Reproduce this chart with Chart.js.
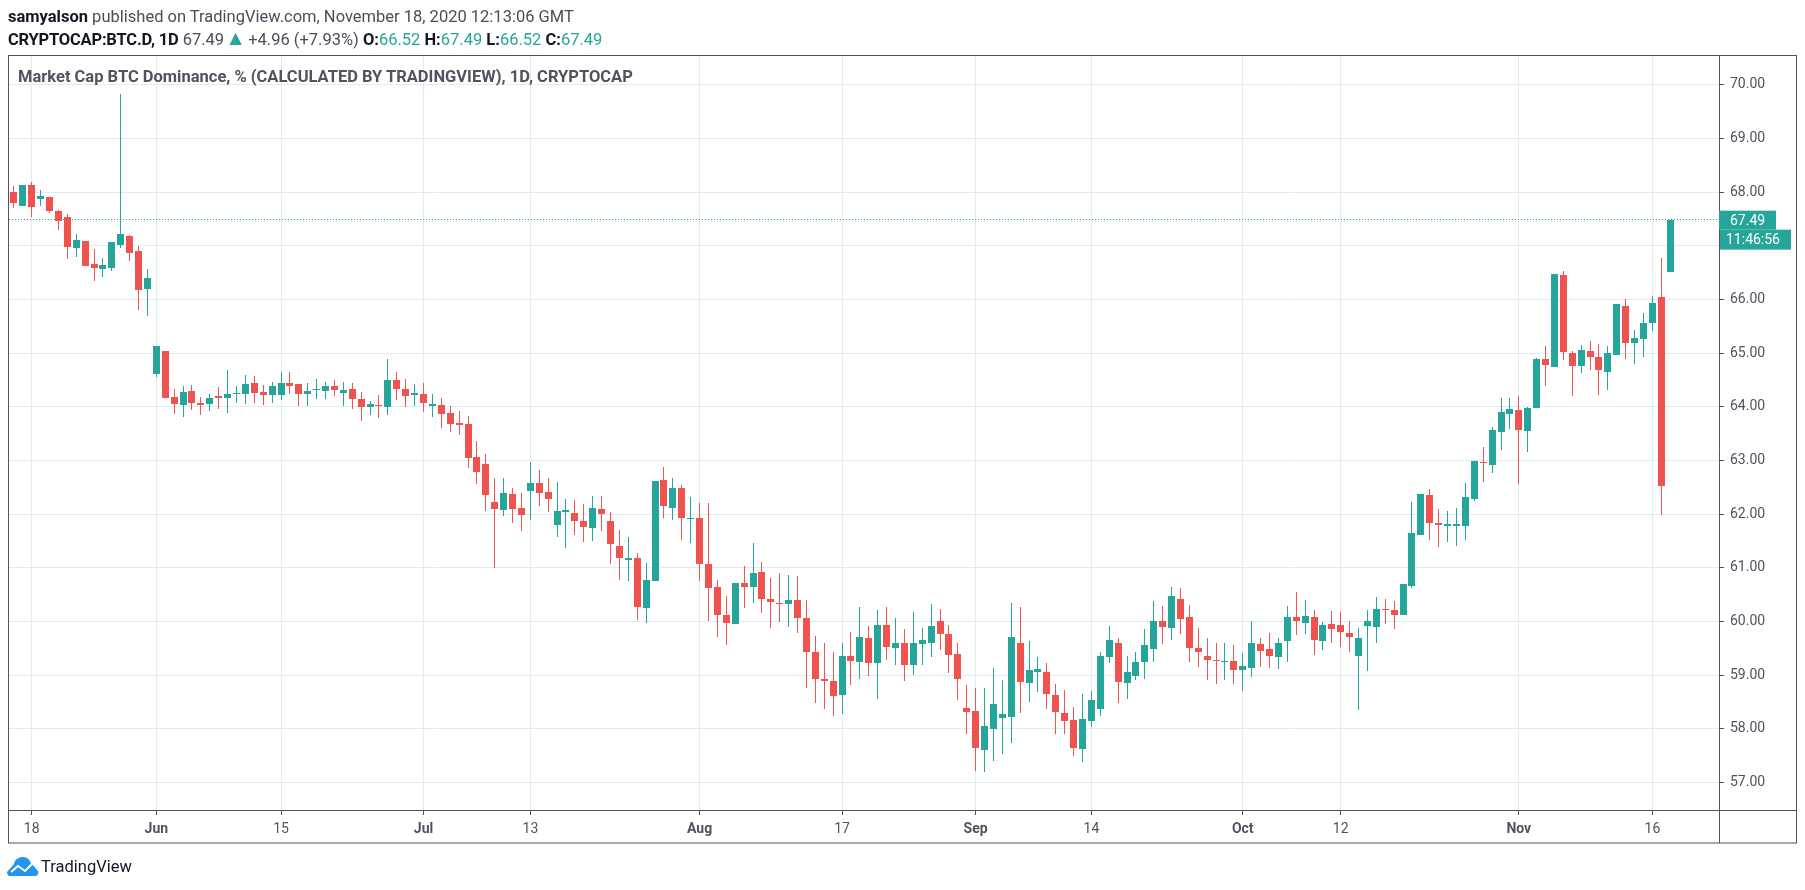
<!DOCTYPE html>
<html>
<head>
<meta charset="utf-8">
<title>BTC Dominance</title>
<script src="https://cdn.jsdelivr.net/npm/chart.js@4"></script>
<style>
  html, body { margin: 0; padding: 0; background: #fff; overflow: hidden; }
  body { width: 1805px; height: 890px; position: relative; font-family: Roboto, sans-serif; }
  canvas { position: absolute; left: 0; top: 0; }
  .txt { position: absolute; white-space: nowrap; }
  #published { left: 8px; top: 7px; font-size: 16.5px; line-height: 20px; color: #4a4e59; }
  #published b, #ohlc b { color: #131722; }
  #ohlc { left: 8px; top: 29px; font-size: 16.5px; line-height: 20px; color: #4a4e59; }
  #ohlc b.sym { letter-spacing: -0.2px; }
  #ohlc span { color: #26a69a; }
  #ohlc span.up { font-size: 21px; line-height: 18px; margin: 0 -2px 0 -3px; }
  #title { left: 18px; top: 67px; font-size: 16.5px; line-height: 20px; font-weight: 700; color: #50535e; }
  #brand { left: 41px; top: 856px; font-size: 16.5px; line-height: 22px; color: #131722; }
  #logo { position: absolute; left: 7px; top: 857px; }
</style>
</head>
<body>
<canvas id="chart" width="1805" height="890"></canvas>
<div class="txt" id="published"><b>samyalson</b> published on TradingView.com, November 18, 2020 12:13:06 GMT</div>
<div class="txt" id="ohlc"><b class="sym">CRYPTOCAP:BTC.D, 1D</b> 67.49 <span class="up">▲</span> +4.96 (+7.93%) <b>O:</b><span>66.52</span> <b>H:</b><span>67.49</span> <b>L:</b><span>66.52</span> <b>C:</b><span>67.49</span></div>
<div class="txt" id="title">Market Cap BTC Dominance, % (CALCULATED BY TRADINGVIEW), 1D, CRYPTOCAP</div>
<svg id="logo" width="32" height="19" viewBox="0 0 32 19">
  <path d="M0 15 L7 7 C8 2 12 0 16 0 C20 0 23 3 24 6 L31 14 C32 17 30 19 28 19 L3 19 C1 19 0 17 0 15 Z" fill="#2196f3"/>
  <polyline points="4,15 11,9 18,14 26,6" fill="none" stroke="#fff" stroke-width="2"/>
</svg>
<div class="txt" id="brand">TradingView</div>
<script>
// candles run one per day from May 16 to Nov 18 2020, x is the day index
const opens = [
  68.01,67.75,68.14,67.88,67.91,67.65,67.54,66.96,67.09,66.66,
  66.57,66.59,67.02,67.19,66.91,66.20,64.61,65.04,64.19,64.04,
  64.30,64.07,64.06,64.20,64.17,64.24,64.24,64.45,64.28,64.22,
  64.22,64.45,64.43,64.24,64.32,64.30,64.39,64.26,64.34,64.15,
  64.00,64.04,64.00,64.50,64.34,64.22,64.24,64.02,64.04,63.89,
  63.70,63.68,63.07,62.94,62.23,62.08,62.38,62.12,62.43,62.58,
  62.42,61.80,62.04,62.02,61.88,61.75,62.10,61.88,61.41,61.15,
  61.19,60.25,60.76,62.64,62.12,62.49,61.91,61.93,61.07,60.65,
  60.12,59.96,60.72,60.65,60.93,60.42,60.35,60.33,60.40,60.07,
  59.43,58.93,58.89,58.63,59.35,59.24,59.69,59.22,59.93,59.50,
  59.61,59.19,59.58,59.61,60.01,59.76,59.39,58.39,58.33,57.60,
  57.99,58.20,58.22,59.61,58.85,59.06,59.06,58.63,58.29,58.16,
  57.62,58.14,58.37,59.34,59.61,58.85,58.98,59.24,59.48,60.01,
  59.88,60.43,60.08,59.50,59.35,59.28,59.24,59.26,59.09,59.13,
  59.58,59.48,59.34,59.63,60.08,59.97,60.08,59.63,59.95,59.93,
  59.78,59.35,59.91,59.89,60.23,60.21,60.12,60.66,61.61,62.35,
  61.83,61.78,61.78,61.78,62.28,62.98,62.91,63.53,63.86,63.94,
  63.55,63.98,64.89,64.74,66.45,65.00,64.76,65.04,64.94,64.65,
  64.96,65.88,65.19,65.26,65.56,66.04,66.52
];
const highs = [
  68.12,68.14,68.19,68.04,67.91,67.67,67.60,67.22,67.09,66.94,
  66.78,67.07,69.83,67.20,67.00,66.57,65.14,65.04,64.34,64.39,
  64.41,64.19,64.24,64.37,64.69,64.39,64.60,64.58,64.41,64.47,
  64.65,64.65,64.43,64.45,64.52,64.47,64.50,64.47,64.45,64.28,
  64.11,64.22,64.89,64.65,64.52,64.43,64.45,64.24,64.17,64.02,
  63.93,63.83,63.37,63.12,62.68,62.68,62.49,62.40,62.98,62.83,
  62.68,62.60,62.29,62.27,62.19,62.34,62.34,62.04,61.71,61.58,
  61.28,61.09,62.62,62.88,62.68,62.55,62.32,62.21,62.21,60.78,
  60.48,60.72,61.04,61.47,61.11,60.81,60.91,60.87,60.85,60.40,
  59.73,59.60,59.43,59.60,59.80,60.27,59.91,60.22,60.27,60.06,
  59.86,60.17,59.88,60.32,60.23,59.93,59.61,58.81,58.76,58.76,
  59.13,58.91,60.34,60.27,59.63,59.34,59.22,58.83,58.72,58.40,
  58.65,58.70,59.43,59.91,59.69,59.35,59.43,59.86,60.38,60.29,
  60.64,60.62,60.30,59.88,59.69,59.60,59.60,59.56,59.41,60.02,
  59.69,59.78,59.69,60.29,60.55,60.40,60.21,59.99,60.19,60.17,
  60.01,59.88,60.21,60.45,60.43,60.38,60.70,62.22,62.37,62.47,
  62.09,62.07,62.11,62.58,62.99,63.25,63.62,64.16,64.16,64.20,
  63.99,64.91,65.13,66.47,66.53,65.04,65.15,65.22,65.17,65.13,
  65.91,66.01,65.43,65.75,66.06,66.77,67.49
];
const lows = [
  67.71,67.75,67.54,67.75,67.61,67.30,66.76,66.80,66.63,66.35,
  66.42,66.53,66.96,66.72,65.81,65.70,64.56,64.17,63.87,63.81,
  63.94,63.85,63.93,63.96,63.89,64.07,64.06,64.07,64.04,64.07,
  64.13,64.24,64.02,64.02,64.15,64.15,64.20,64.02,63.96,63.74,
  63.85,63.80,63.85,64.13,64.00,64.02,63.91,63.81,63.61,63.53,
  63.48,62.86,62.57,62.06,61.00,61.97,61.84,61.69,61.89,62.16,
  62.04,61.58,61.37,61.61,61.48,61.50,61.69,61.07,60.78,60.76,
  60.03,59.98,60.76,61.93,61.89,61.52,61.47,60.76,60.01,59.71,
  59.57,59.96,60.25,60.35,60.16,59.88,60.00,59.90,59.79,58.76,
  58.48,58.37,58.24,58.27,58.81,58.93,58.98,58.55,59.28,59.19,
  58.89,59.00,59.19,59.34,59.47,59.04,58.53,57.90,57.21,57.19,
  57.40,57.53,57.73,58.29,58.50,58.68,58.37,57.90,57.90,57.49,
  57.38,58.03,58.25,59.22,58.48,58.55,58.91,58.93,59.24,59.58,
  59.65,59.76,59.24,59.15,58.91,58.83,58.91,58.83,58.70,58.96,
  59.15,59.13,59.11,59.24,59.75,59.76,59.37,59.47,59.61,59.52,
  59.43,58.35,59.07,59.61,59.95,59.86,60.12,60.62,61.61,61.52,
  61.39,61.48,61.40,61.52,62.24,62.61,62.76,63.19,63.58,62.56,
  63.16,63.98,64.39,64.74,64.87,64.20,64.63,64.68,64.22,64.31,
  64.96,64.89,64.80,64.94,65.41,61.98,66.52
];
const closes = [
  67.80,68.14,67.73,67.93,67.65,67.47,66.98,67.11,66.63,66.59,
  66.65,67.07,67.22,66.87,66.18,66.40,65.14,64.17,64.06,64.28,
  64.07,64.04,64.17,64.17,64.24,64.26,64.43,64.26,64.22,64.39,
  64.45,64.39,64.24,64.30,64.34,64.39,64.32,64.32,64.15,64.00,
  64.06,64.02,64.50,64.34,64.20,64.26,64.07,64.06,63.87,63.68,
  63.66,63.05,62.79,62.36,62.10,62.40,62.10,61.99,62.58,62.40,
  62.29,62.06,62.08,61.88,61.76,62.12,62.01,61.45,61.19,61.19,
  60.27,60.78,62.62,62.16,62.49,61.93,61.93,61.07,60.63,60.12,
  59.98,60.72,60.65,60.91,60.42,60.37,60.33,60.40,60.07,59.43,
  58.93,58.89,58.61,59.35,59.26,59.71,59.22,59.93,59.52,59.61,
  59.20,59.60,59.65,59.91,59.76,59.37,58.93,58.31,57.64,58.05,
  58.46,58.27,59.71,58.87,59.09,59.11,58.66,58.31,58.14,57.64,
  58.18,58.53,59.35,59.65,58.87,59.06,59.24,59.56,60.02,59.89,
  60.47,60.04,59.50,59.43,59.28,59.26,59.26,59.09,59.17,59.60,
  59.45,59.35,59.60,60.08,60.01,60.10,59.65,59.93,59.86,59.80,
  59.71,59.69,60.02,60.23,60.21,60.12,60.70,61.65,62.37,61.83,
  61.80,61.81,61.81,62.32,62.99,62.96,63.57,63.90,63.96,63.57,
  63.98,64.89,64.78,66.47,65.02,64.76,65.06,64.94,64.68,65.00,
  65.91,65.20,65.28,65.56,65.93,62.52,67.49
];
const tickDays = [2, 16, 30, 46, 58, 77, 93, 108, 121, 138, 149, 169, 184];
const tickLabels = ["18", "Jun", "15", "Jul", "13", "Aug", "17", "Sep", "14", "Oct", "12", "Nov", "16"];
const monthLabels = ["Jun", "Jul", "Aug", "Sep", "Oct", "Nov"];
const priceTicks = [57, 58, 59, 60, 61, 62, 63, 64, 65, 66, 67, 68, 69, 70];

const UP = "#26a69a";
const DOWN = "#ef5350";
const GRID = "#e1ecf2";
const AXIS = "#50535e";
const FONT = "Roboto, sans-serif";
const DAY_MIN = -0.55;
const DAY_MAX = 191.48;
const lastClose = closes[closes.length - 1];

const candleColors = closes.map((c, i) => (c >= opens[i] ? UP : DOWN));

// keep wicks, bodies and the dotted line on whole pixels so they stay crisp like the original
const snapBars = {
  id: "snapBars",
  afterDatasetsUpdate(chart) {
    chart.data.datasets.forEach((ds, i) => {
      const points = chart.getDatasetMeta(i).data;
      if (ds.type === "line") {
        points.forEach((p) => {
          p.y = Math.floor(p.y) + 0.5;
        });
        return;
      }
      for (const bar of points) {
        const top = Math.round(Math.min(bar.y, bar.base));
        let bottom = Math.round(Math.max(bar.y, bar.base));
        if (bottom === top) {
          bottom = top + 1;
        }
        bar.x = Math.floor(bar.x) + 0.5;
        bar.y = top;
        bar.base = bottom;
        bar.height = bottom - top;
      }
    });
  }
};

function drawTag(ctx, text, x, y, w, h, textX) {
  ctx.fillStyle = UP;
  ctx.fillRect(x, y, w, h);
  ctx.fillStyle = "#fff";
  ctx.fillText(text, textX, y + h / 2 + 1);
}

const frameAndTags = {
  id: "frameAndTags",
  afterDraw(chart) {
    const { ctx, chartArea: area } = chart;
    const lastY = chart.scales.y.getPixelForValue(lastClose);
    ctx.save();
    ctx.strokeStyle = AXIS;
    ctx.lineWidth = 1;
    ctx.strokeRect(area.left - 0.5, area.top - 0.5, 1797 - area.left, 843.5 - area.top);
    ctx.beginPath();
    ctx.moveTo(area.left, area.bottom + 0.5);
    ctx.lineTo(1797, area.bottom + 0.5);
    ctx.moveTo(area.right + 0.5, area.top);
    ctx.lineTo(area.right + 0.5, 843);
    ctx.stroke();
    ctx.font = "14px " + FONT;
    ctx.textBaseline = "middle";
    drawTag(ctx, lastClose.toFixed(2), area.right, lastY - 9, 57, 19, area.right + 11);
    drawTag(ctx, "11:46:56", area.right + 1, lastY + 10, 71, 20, area.right + 7);
    ctx.restore();
  }
};

new Chart(document.querySelector("#chart"), {
  type: "bar",
  data: {
    datasets: [
      {
        type: "line",
        data: [{ x: DAY_MIN, y: lastClose }, { x: DAY_MAX, y: lastClose }],
        borderColor: UP,
        borderWidth: 1,
        borderDash: [1, 2],
        pointRadius: 0,
        order: 3
      },
      {
        label: "Wicks",
        data: highs.map((h, i) => ({ x: i, y: [lows[i], h] })),
        backgroundColor: candleColors,
        barThickness: 1,
        grouped: false,
        inflateAmount: 0,
        order: 2
      },
      {
        label: "Bodies",
        data: opens.map((o, i) => ({ x: i, y: [o, closes[i]] })),
        backgroundColor: candleColors,
        barThickness: 7,
        grouped: false,
        inflateAmount: 0,
        order: 1
      }
    ]
  },
  options: {
    responsive: false,
    devicePixelRatio: 1,
    animation: false,
    layout: { padding: { left: 9, right: 8, top: 56, bottom: 47 } },
    plugins: {
      legend: { display: false },
      tooltip: { enabled: false }
    },
    scales: {
      x: {
        type: "linear",
        offset: false,
        min: DAY_MIN,
        max: DAY_MAX,
        afterBuildTicks: (scale) => {
          scale.ticks = tickDays.map((value) => ({ value }));
        },
        afterFit: (scale) => {
          scale.height = 33;
        },
        grid: { offset: false, color: GRID, tickColor: AXIS, tickLength: 5 },
        border: { display: false },
        ticks: {
          autoSkip: false,
          maxRotation: 0,
          padding: 6,
          color: AXIS,
          callback: (value) => tickLabels[tickDays.indexOf(value)],
          font: (ctx) => ({
            family: FONT,
            size: 14,
            weight: monthLabels.includes(tickLabels[ctx.index]) ? "700" : "400"
          })
        }
      },
      y: {
        position: "right",
        min: 56.489,
        max: 70.54,
        afterBuildTicks: (scale) => {
          scale.ticks = priceTicks.map((value) => ({ value }));
        },
        afterFit: (scale) => {
          scale.width = 78;
        },
        grid: { color: GRID, tickColor: AXIS, tickLength: 5 },
        border: { display: false },
        ticks: {
          padding: 6,
          color: AXIS,
          callback: (value) => value.toFixed(2),
          font: { family: FONT, size: 14 }
        }
      }
    }
  },
  plugins: [snapBars, frameAndTags]
});
</script>
</body>
</html>
